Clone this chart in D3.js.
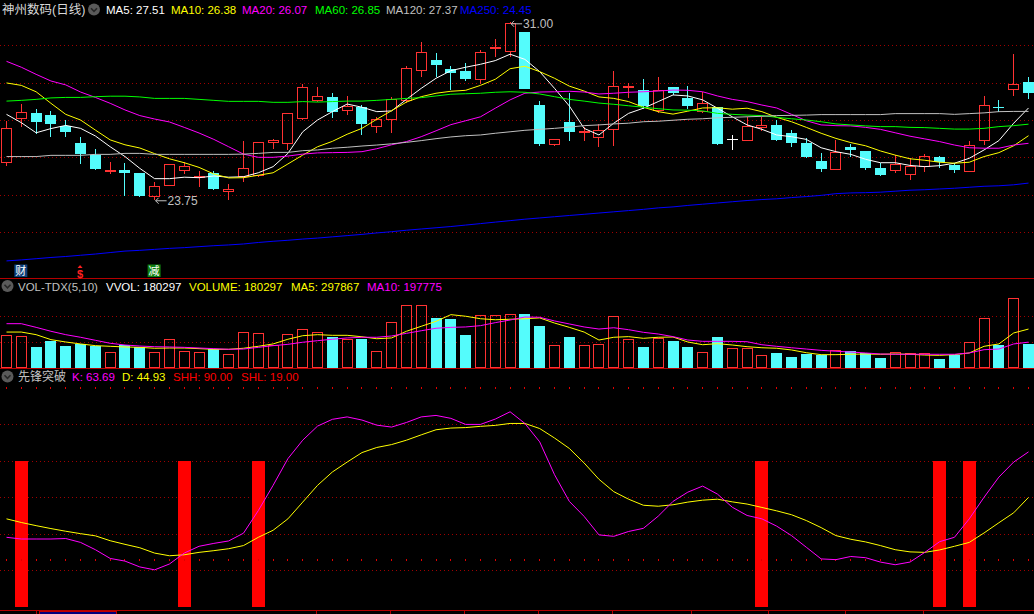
<!DOCTYPE html>
<html><head><meta charset="utf-8">
<script src="https://cdn.jsdelivr.net/npm/d3@7/dist/d3.min.js"></script>
<style>html,body{margin:0;padding:0;background:#000;overflow:hidden}</style>
</head><body>
<svg id="c" width="1034" height="614"></svg>
<script>
// ---------- data ----------
const opens  = [25.28,27.05,27.31,27.22,26.78,26.08,25.59,24.90,24.98,24.85,23.87,24.32,24.96,24.68,24.85,24.08,24.69,24.74,26.10,26.03,27.07,27.81,27.94,27.37,27.54,26.72,27.01,27.81,29.03,29.46,29.10,29.02,28.66,29.90,29.78,30.60,27.63,26.01,26.94,26.52,26.30,26.60,28.34,28.23,27.39,28.36,27.93,27.35,27.54,26.25,26.18,26.71,26.82,26.48,26.07,25.35,25.00,25.92,25.76,25.07,24.96,24.77,25.11,25.51,25.20,24.91,26.18,27.55,28.23,28.57];
const highs  = [26.98,27.67,27.47,27.39,27.02,26.33,25.84,25.30,25.26,24.86,24.48,25.22,25.30,24.94,24.94,24.41,26.16,26.11,26.26,27.29,28.47,28.36,28.11,27.98,27.62,27.13,27.97,29.22,30.20,29.75,29.23,29.34,29.86,30.31,31.00,30.60,27.79,26.25,28.13,26.72,26.86,29.02,28.54,28.69,28.77,28.36,28.40,28.17,27.54,26.41,27.13,27.13,27.02,26.61,26.27,25.66,26.21,26.04,25.76,25.28,25.59,25.46,25.62,25.55,25.26,26.16,28.00,27.84,29.71,28.77];
const lows   = [25.16,26.75,26.44,26.34,26.34,25.23,24.98,24.83,23.94,23.90,23.75,24.32,24.82,24.30,24.17,23.77,24.51,24.71,25.85,25.80,27.02,27.77,27.11,27.22,26.41,26.48,26.50,27.70,28.76,28.78,28.24,28.62,28.47,29.57,29.57,28.27,25.97,25.96,26.18,26.18,25.93,25.97,27.93,27.46,27.32,28.04,27.48,27.29,26.00,25.80,26.18,26.57,26.18,25.93,25.48,24.91,25.00,25.53,25.00,24.74,24.87,24.59,24.91,25.08,24.87,24.91,26.00,27.36,28.00,27.89];
const closes = [26.68,27.33,26.95,26.87,26.54,25.62,25.02,24.98,24.86,23.94,24.32,25.22,25.15,24.72,24.22,24.20,25.07,26.11,26.19,27.29,28.35,27.99,27.36,27.58,26.86,27.06,27.89,29.13,29.78,29.27,28.95,28.69,29.78,29.98,30.98,28.27,26.05,26.25,26.53,26.57,26.61,28.39,28.39,27.59,28.23,28.12,27.59,27.70,26.04,26.25,26.78,26.80,26.22,26.10,25.53,25.04,25.73,25.80,25.08,24.79,25.22,25.15,25.54,25.30,25.00,25.99,27.62,27.53,28.47,28.13];

const ma5   = [27.25,26.91,26.50,26.67,26.80,26.68,26.37,25.93,25.53,25.05,24.63,24.63,24.69,24.67,24.74,24.69,24.71,24.87,25.12,25.66,26.54,27.02,27.36,27.67,27.54,27.36,27.39,27.86,28.31,28.72,29.03,29.17,29.29,29.44,29.70,29.49,28.99,28.31,27.59,26.68,26.41,26.89,27.29,27.50,27.77,28.04,28.00,27.84,27.50,27.15,26.82,26.64,26.41,26.34,26.23,25.89,25.73,25.62,25.42,25.28,25.28,25.17,25.12,25.16,25.26,25.46,25.80,26.18,26.89,27.51];
const ma10  = [28.53,28.43,28.17,27.70,27.25,27.02,26.61,26.21,26.01,25.88,25.65,25.44,25.28,25.09,24.82,24.66,24.67,24.77,24.87,25.23,25.59,25.93,26.15,26.44,26.68,27.05,27.40,27.75,27.97,28.11,28.19,28.23,28.43,28.68,29.11,29.21,28.99,28.72,28.40,28.20,27.96,27.90,27.77,27.54,27.36,27.26,27.38,27.51,27.52,27.46,27.50,27.36,27.13,26.95,26.72,26.48,26.27,26.10,25.97,25.76,25.59,25.44,25.38,25.30,25.26,25.30,25.53,25.69,25.97,26.38];
const ma20  = [29.41,29.17,28.88,28.61,28.45,28.16,27.94,27.70,27.43,27.20,27.06,26.94,26.72,26.49,26.23,25.93,25.63,25.50,25.50,25.55,25.63,25.68,25.69,25.70,25.73,25.85,26.01,26.14,26.34,26.58,26.83,26.99,27.15,27.50,27.84,28.11,28.16,28.17,28.19,28.16,28.08,28.11,28.15,28.17,28.20,28.24,28.23,28.17,28.00,27.86,27.77,27.63,27.51,27.25,26.99,26.82,26.79,26.78,26.72,26.64,26.50,26.36,26.25,26.14,26.00,25.89,25.87,25.87,26.00,26.07];
const ma60  = [27.79,27.82,27.86,27.92,27.94,27.94,27.97,27.99,27.99,27.96,27.90,27.90,27.90,27.86,27.82,27.78,27.78,27.78,27.74,27.74,27.77,27.75,27.77,27.79,27.79,27.82,27.86,27.90,27.93,28.00,28.07,28.09,28.11,28.15,28.17,28.15,28.08,27.97,27.86,27.79,27.71,27.66,27.60,27.54,27.48,27.43,27.42,27.39,27.29,27.25,27.22,27.20,27.13,27.07,27.02,26.95,26.86,26.82,26.78,26.75,26.75,26.72,26.71,26.68,26.65,26.65,26.68,26.75,26.79,26.85];
const ma120 = [25.53,25.53,25.53,25.58,25.58,25.58,25.62,25.62,25.66,25.66,25.62,25.62,25.62,25.62,25.62,25.62,25.63,25.66,25.70,25.70,25.77,25.80,25.87,25.91,25.96,26.00,26.05,26.11,26.18,26.26,26.33,26.38,26.41,26.48,26.54,26.60,26.64,26.68,26.73,26.79,26.82,26.86,26.89,26.95,26.97,27.01,27.05,27.07,27.11,27.13,27.15,27.17,27.20,27.21,27.22,27.24,27.24,27.24,27.24,27.24,27.28,27.28,27.28,27.28,27.25,27.28,27.31,27.36,27.37,27.37];
const ma250 = [21.28,21.32,21.37,21.42,21.46,21.51,21.56,21.62,21.68,21.71,21.75,21.79,21.82,21.86,21.90,21.93,21.97,22.03,22.08,22.12,22.17,22.21,22.26,22.31,22.36,22.42,22.47,22.53,22.58,22.63,22.68,22.74,22.80,22.86,22.92,22.98,23.03,23.08,23.13,23.18,23.23,23.28,23.33,23.38,23.44,23.48,23.54,23.59,23.64,23.69,23.74,23.78,23.81,23.86,23.90,23.95,24.02,24.05,24.06,24.08,24.12,24.16,24.18,24.21,24.24,24.28,24.32,24.34,24.38,24.45];
const maNames = ['MA5','MA10','MA20','MA60','MA120','MA250'];

// volume in thousands of lots
const volume  = [250,242,161,207,168,186,171,120,176,161,120,220,128,120,145,105,273,265,176,258,296,273,237,220,222,128,350,480,480,380,375,252,403,403,411,413,321,174,237,174,181,395,220,161,227,207,161,120,237,151,151,97,115,84,107,97,138,130,112,77,122,115,115,69,99,199,380,176,533,180.297];
const volMA5  = [275,275,255,217,199,184,171,166,161,158,151,153,153,148,143,143,151,166,184,220,247,255,250,250,239,224,230,281,319,357,408,396,377,369,373,377,383,344,311,275,214,235,240,227,235,237,199,178,186,176,163,155,151,138,117,102,102,105,107,105,107,105,99,97,102,115,166,184,268,297.867];
const volMA10 = [339,339,311,281,255,235,212,189,176,168,163,161,158,153,148,143,145,158,171,181,197,209,220,230,235,235,245,265,285,304,311,314,324,347,367,390,388,360,337,314,298,308,293,273,260,240,214,204,204,204,201,178,166,155,145,135,128,122,115,107,105,105,105,105,105,115,140,145,184,197.775];

// 先锋突破 indicator
const kLine = [28.5,27.8,27.8,27.8,28.0,26.4,23.4,19.8,18.7,16.3,15.1,17.5,22.0,24.8,26.0,27.0,30.2,39.5,49.9,60.9,68.5,74.3,77.1,78.1,76.8,74.7,73.9,75.8,78.1,78.7,77.5,75.0,75.0,77.2,80.2,75.4,67.8,54.3,43.3,37.1,29.5,28.9,30.9,32.2,37.2,43.3,47.1,49.6,46.3,40.9,37.5,36.1,33.1,29.2,24.4,19.6,19.3,20.6,20.1,18.3,17.2,18.3,22.3,26.7,28.5,36.1,45.0,53.3,59.5,63.69];
const dLine = [36.1,34.6,33.3,32.1,31.0,30.0,29.1,27.1,25.6,24.2,22.0,20.9,21.3,22.3,23.0,23.8,25.1,28.5,31.4,36.1,43.0,49.9,55.4,59.5,63.4,65.5,66.7,68.5,70.7,72.8,73.5,73.7,74.2,74.6,75.4,75.4,73.3,69.4,65.1,59.1,52.4,47.3,44.2,41.7,41.3,41.9,43.0,43.8,44.2,43.1,42.2,40.8,39.4,37.8,35.4,32.5,29.2,27.7,26.6,25.1,23.4,22.5,22.3,23.3,24.8,26.4,30.3,34.5,38.6,44.93];
const signalIdx = [1,12,17,51,63,65];
const signalValue = 60;
const SHH = 90, SHL = 19;

const priceGrid = [30.06,28.54,27.02,25.50,23.98,22.46];
const volGrid = [197,396];
const indGrid = [15,30,45,60,75];

const markerIdx = [1,5,10];
const markerText = ['财','$','减'];
const dateTickIdx = [20.9,25.9,30.9,35.9,40.9,46.2,51.4,56.6,61.9];

// ---------- drawing ----------
const W = 1034, H = 614;
const svg = d3.select('#c');
const FONT = '"Liberation Sans", Arial, "Noto Sans CJK SC", sans-serif';
svg.append('rect').attr('width', W).attr('height', H).attr('fill', '#000');

const n = closes.length;
const x = d3.scaleLinear().domain([0, n - 1]).range([6.5, 1028.5]);
const cx = i => Math.floor(x(i)) + 0.5;
const yP = d3.scaleLinear().domain([20.6, 31]).range([277.6, 22.3]);
const yV = d3.scaleLinear().domain([0, 600]).range([368, 368 - 600 / 7.65]);
const yK = d3.scaleLinear().domain([0, 90]).range([606.5, 388]);

const UP = '#ff3232', DOWN = '#54fcfc', GRID = '#a00000', PANEL = '#b40000';

function dotted(y) {
  svg.append('line').attr('x1', 0).attr('x2', W).attr('y1', Math.round(y) + 0.5).attr('y2', Math.round(y) + 0.5)
    .attr('stroke', GRID).attr('stroke-width', 1).attr('stroke-dasharray', '1,3');
}
priceGrid.forEach(v => dotted(yP(v)));
volGrid.forEach(v => dotted(yV(v)));
indGrid.forEach(v => dotted(yK(v)));

// panel separators
[278.5, 368.5, 610.5].forEach(y => svg.append('line').attr('x1', 0).attr('x2', W).attr('y1', y).attr('y2', y).attr('stroke', PANEL).attr('stroke-width', 1));

// candles
const gC = svg.append('g');
for (let i = 0; i < n; i++) {
  const o = opens[i], c = closes[i], h = highs[i], l = lows[i];
  const X = cx(i);
  const yo = Math.round(yP(o)), yc = Math.round(yP(c)), yh = Math.round(yP(h)), yl = Math.round(yP(l));
  if (c > o) {
    const top = yc, bot = Math.max(yo, yc + 1);
    gC.append('line').attr('x1', X).attr('x2', X).attr('y1', yh).attr('y2', top).attr('stroke', UP);
    gC.append('line').attr('x1', X).attr('x2', X).attr('y1', bot).attr('y2', yl).attr('stroke', UP);
    gC.append('rect').attr('x', X - 5).attr('y', top + 0.5).attr('width', 10).attr('height', Math.max(1, bot - top - 1) )
      .attr('fill', 'none').attr('stroke', UP).attr('stroke-width', 1);
  } else if (c < o) {
    gC.append('line').attr('x1', X).attr('x2', X).attr('y1', yh).attr('y2', yl).attr('stroke', DOWN);
    gC.append('rect').attr('x', X - 5.5).attr('y', yo).attr('width', 11).attr('height', Math.max(1, yc - yo)).attr('fill', DOWN);
  } else {
    gC.append('line').attr('x1', X).attr('x2', X).attr('y1', yh).attr('y2', yl).attr('stroke', '#ffffff');
    gC.append('line').attr('x1', X - 5.5).attr('x2', X + 5.5).attr('y1', yo + 0.5).attr('y2', yo + 0.5).attr('stroke', '#ffffff');
  }
}

// MA lines
const maSeries = [ma5, ma10, ma20, ma60, ma120, ma250];
const maColors = ['#ffffff', '#ffff00', '#ff00ff', '#00ff00', '#c0c0c0', '#0000ff'];
const lineP = d3.line().x((d, i) => x(i)).y(d => yP(d));
maSeries.forEach((s, k) => svg.append('path').attr('d', lineP(s)).attr('fill', 'none').attr('stroke', maColors[k]).attr('stroke-width', 1));

// high / low annotations
const hiIdx = d3.maxIndex(highs), loIdx = d3.minIndex(lows);
function annot(i, v, ty) {
  const X = x(i), Y = yP(v);
  const g = svg.append('g').attr('stroke', '#c0c0c0').attr('fill', 'none');
  g.append('line').attr('x1', X + 1).attr('x2', X + 12).attr('y1', Y + ty).attr('y2', Y + ty);
  g.append('path').attr('d', `M${X + 4},${Y + ty - 3} L${X + 1},${Y + ty} L${X + 4},${Y + ty + 3}`);
  svg.append('text').attr('x', X + 13).attr('y', Y + ty + 4.5).attr('fill', '#c0c0c0')
    .attr('font-family', FONT).attr('font-size', 12).text(v.toFixed(2));
}
annot(hiIdx, highs[hiIdx], 1.5);
annot(loIdx, lows[loIdx], 0.5);

// event markers
markerIdx.forEach((idx, k) => {
  const X = x(idx) - 0.5, t = markerText[k];
  if (t === '$') {
    svg.append('path').attr('d', `M${X - 2.5},${268} L${X},${265} L${X + 2.5},${268} Z`).attr('fill', '#ff2020');
    svg.append('text').attr('x', X).attr('y', 277.5).attr('text-anchor', 'middle').attr('fill', '#ff2020')
      .attr('font-family', FONT).attr('font-size', 11).attr('font-weight', 'bold').text(t);
  } else {
    const bg = t === '财' ? '#0d3f7a' : '#0f7f0f';
    svg.append('rect').attr('x', X - 6.5).attr('y', 264.5).attr('width', 13).attr('height', 12.5).attr('fill', bg);
    svg.append('text').attr('x', X).attr('y', 275).attr('text-anchor', 'middle').attr('fill', '#ffffff')
      .attr('font-family', '"Noto Sans CJK SC", sans-serif').attr('font-size', 11).text(t);
  }
});

// volume bars
const gV = svg.append('g');
for (let i = 0; i < n; i++) {
  const X = cx(i), yt = Math.round(yV(volume[i]));
  if (closes[i] >= opens[i]) {
    gV.append('rect').attr('x', X - 5).attr('y', yt + 0.5).attr('width', 10).attr('height', 367.5 - (yt + 0.5))
      .attr('fill', 'none').attr('stroke', UP);
  } else {
    gV.append('rect').attr('x', X - 5.5).attr('y', yt).attr('width', 11).attr('height', 368 - yt).attr('fill', DOWN);
  }
}
const lineV = d3.line().x((d, i) => x(i)).y(d => yV(d));
svg.append('path').attr('d', lineV(volMA5)).attr('fill', 'none').attr('stroke', '#ffff00');
svg.append('path').attr('d', lineV(volMA10)).attr('fill', 'none').attr('stroke', '#ff00ff');

// indicator
signalIdx.forEach(i => {
  svg.append('rect').attr('x', Math.floor(x(i)) - 6).attr('y', Math.round(yK(signalValue)))
    .attr('width', 13).attr('height', Math.round(yK(0)) - Math.round(yK(signalValue))).attr('fill', '#ff0000');
});
for (let i = 0; i < n; i++) {
  [SHH, SHL].forEach(v => svg.append('rect').attr('x', Math.floor(x(i))).attr('y', Math.round(yK(v)) - 1)
    .attr('width', 1).attr('height', 2).attr('fill', '#e00000'));
}
const lineK = d3.line().x((d, i) => x(i)).y(d => yK(d));
svg.append('path').attr('d', lineK(dLine)).attr('fill', 'none').attr('stroke', '#ffff00');
svg.append('path').attr('d', lineK(kLine)).attr('fill', 'none').attr('stroke', '#ff00ff');

// bottom date axis remnants
dateTickIdx.forEach(t => svg.append('line').attr('x1', Math.round(x(t)) + 0.5).attr('x2', Math.round(x(t)) + 0.5)
  .attr('y1', 611).attr('y2', 614).attr('stroke', PANEL));
svg.append('line').attr('x1', 36.5).attr('x2', 36.5).attr('y1', 611).attr('y2', 614).attr('stroke', PANEL);
svg.append('rect').attr('x', 39.5).attr('y', 611.5).attr('width', 77).attr('height', 10).attr('fill', '#00007c').attr('stroke', '#c00000');

// legends
function icon(X, Y) {
  svg.append('circle').attr('cx', X).attr('cy', Y).attr('r', 6).attr('fill', '#5a5a5a');
  svg.append('path').attr('d', `M${X - 3},${Y - 1.2} L${X},${Y + 1.8} L${X + 3},${Y - 1.2}`)
    .attr('fill', 'none').attr('stroke', '#262626').attr('stroke-width', 1.6);
}
function txt(X, Y, t, color, size) {
  svg.append('text').attr('x', X).attr('y', Y).attr('fill', color).attr('font-family', FONT)
    .attr('font-size', size || 11.5).text(t);
}
txt(2, 14, '神州数码(日线)', '#d8d8d8', 12.5);
icon(94, 9.5);
const maX = [106, 171, 242, 315, 386, 460];
maNames.forEach((nm, k) => txt(maX[k], 14, `${nm}: ${maSeries[k][n - 1].toFixed(2)}`, maColors[k]));

icon(7.5, 286);
txt(18, 290.5, 'VOL-TDX(5,10)', '#c0c0c0');
txt(106, 290.5, `VVOL: ${Math.round(volume[n - 1] * 1000)}`, '#ffffff');
txt(189, 290.5, `VOLUME: ${Math.round(volume[n - 1] * 1000)}`, '#ffff00');
txt(291, 290.5, `MA5: ${Math.round(volMA5[n - 1] * 1000)}`, '#ffff00');
txt(367, 290.5, `MA10: ${Math.round(volMA10[n - 1] * 1000)}`, '#ff00ff');

icon(7.5, 376.5);
txt(18, 381, '先锋突破', '#c0c0c0', 12);
txt(72, 381, `K: ${kLine[n - 1].toFixed(2)}`, '#ff00ff');
txt(122, 381, `D: ${dLine[n - 1].toFixed(2)}`, '#ffff00');
txt(173, 381, `SHH: ${SHH.toFixed(2)}`, '#ff0000');
txt(241, 381, `SHL: ${SHL.toFixed(2)}`, '#ff0000');
</script>
</body></html>
